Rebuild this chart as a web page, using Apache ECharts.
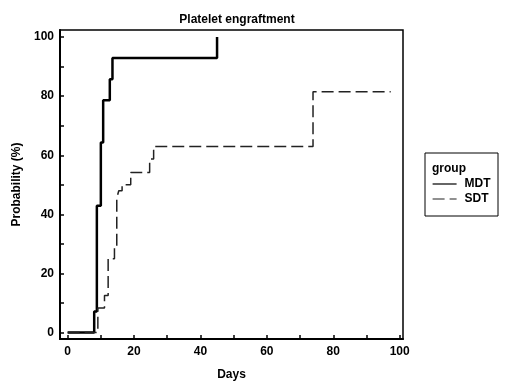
<!DOCTYPE html>
<html>
<head>
<meta charset="utf-8">
<script src="https://cdn.jsdelivr.net/npm/echarts@6/dist/echarts.min.js"></script>
<style>
html,body{margin:0;padding:0;background:#fff;}
#chart{width:520px;height:386px;}
</style>
</head>
<body>
<div id="chart"></div>
<script>
// Kaplan-Meier step data
const mdtDays = [0, 8.0, 8.8, 10.0, 10.7, 12.7, 13.5, 45];
const mdtProb = [0, 7.1, 42.9, 64.3, 78.6, 85.7, 92.9, 100];
const sdtDays = [0, 9.1, 11.1, 12.2, 14.1, 14.8, 15.4, 16.4, 19.0, 24.7, 25.9, 73.9, 97.3];
const sdtProb = [0, 8.3, 12.5, 25.0, 29.2, 45.5, 48.0, 50.0, 54.2, 58.7, 63.0, 81.5, 81.5];
const xTickLabels = [0, 20, 40, 60, 80, 100];
const yTickLabels = [0, 20, 40, 60, 80, 100];
const xTicks = [0, 10, 20, 30, 40, 50, 60, 70, 80, 90, 100];
const yTicks = [0, 10, 20, 30, 40, 50, 60, 70, 80, 90, 100];
const seriesNames = ['MDT', 'SDT'];

const font = 'Liberation Sans, Arial, sans-serif';
const chart = echarts.init(document.getElementById('chart'), null, {renderer: 'canvas'});

const zip = (a, b) => a.map((v, i) => [v, b[i]]);

chart.setOption({
  animation: false,
  backgroundColor: '#fff',
  title: {
    text: 'Platelet engraftment',
    left: 232, top: 9, textAlign: 'center',
    textStyle: {fontFamily: font, fontSize: 12, fontWeight: 'bold', color: '#000'}
  },
  grid: {left: 60, right: 117, top: 30, bottom: 47, show: true, borderColor: '#000', borderWidth: 1.5},
  xAxis: {
    type: 'value', min: -2.3, max: 101,
    name: 'Days', nameLocation: 'middle', nameGap: 30,
    nameTextStyle: {fontFamily: font, fontSize: 12, fontWeight: 'bold', color: '#000'},
    axisLine: {show: true, onZero: false, lineStyle: {color: '#000', width: 2}},
    axisTick: {show: true, inside: true, length: 4, customValues: xTicks, lineStyle: {color: '#000', width: 1.5}},
    axisLabel: {customValues: xTickLabels, margin: 7, fontFamily: font, fontSize: 12, fontWeight: 'bold', color: '#000'},
    splitLine: {show: false}
  },
  yAxis: {
    type: 'value', min: -2.2, max: 102.4,
    name: 'Probability (%)', nameLocation: 'middle', nameGap: 36, nameRotate: 90,
    nameTextStyle: {fontFamily: font, fontSize: 12, fontWeight: 'bold', color: '#000'},
    axisLine: {show: true, onZero: false, lineStyle: {color: '#000', width: 2}},
    axisTick: {show: true, inside: true, length: 4, customValues: yTicks, lineStyle: {color: '#000', width: 1.5}},
    axisLabel: {customValues: yTickLabels, margin: 6, fontFamily: font, fontSize: 12, fontWeight: 'bold', color: '#000'},
    splitLine: {show: false}
  },
  legend: {
    orient: 'vertical', left: 432, top: 178, padding: 0, itemWidth: 24, itemHeight: 14, itemGap: 3,
    data: seriesNames,
    itemStyle: {opacity: 0},
    lineStyle: {width: 1.2},
    textStyle: {fontFamily: font, fontSize: 12, fontWeight: 'bold', color: '#000', padding: [0, 0, 0, 3]}
  },
  graphic: [
    {type: 'rect', shape: {x: 425, y: 153, width: 73, height: 63}, style: {fill: 'none', stroke: '#000', lineWidth: 1}},
    {type: 'text', x: 432, y: 169, style: {text: 'group', font: 'bold 12px ' + font, fill: '#000', textVerticalAlign: 'middle'}}
  ],
  series: [
    {
      name: seriesNames[0], type: 'line', step: 'end', symbol: 'none',
      data: zip(mdtDays, mdtProb),
      lineStyle: {color: '#000', width: 2.5}, itemStyle: {color: '#000'}
    },
    {
      name: seriesNames[1], type: 'line', step: 'end', symbol: 'none',
      data: zip(sdtDays, sdtProb),
      lineStyle: {color: '#222', width: 1.5, type: [12, 5]}, itemStyle: {color: '#222'}
    }
  ]
});
</script>
</body>
</html>
